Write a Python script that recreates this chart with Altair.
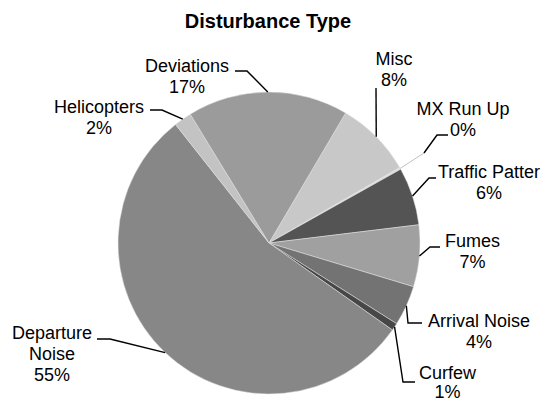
import math
import pandas as pd
import altair as alt

# ---------------- data ----------------
title = "Disturbance Type"
categories = ["Misc", "MX Run Up", "Traffic Pattern", "Fumes", "Arrival Noise",
              "Curfew", "Departure Noise", "Helicopters", "Deviations"]
label_names = [["Misc"], ["MX Run Up"], ["Traffic Patter"], ["Fumes"], ["Arrival Noise"],
               ["Curfew"], ["Departure", "Noise"], ["Helicopters"], ["Deviations"]]
values = [8.2, 0.2, 6.2, 6.6, 4.3, 0.8, 54.6, 1.9, 17.2]
colors = ["#c8c8c8", "#dcdcdc", "#545454", "#a0a0a0", "#737373",
          "#474747", "#878787", "#c3c3c3", "#9b9b9b"]

# ---------------- layout (style) ----------------
W, H = 533, 394          # chart size (page offset 8px)
OFF = 8
CX, CY, R = 269.0, 243.0, 151.0   # pie centre / radius in page pixels
START_DEG = 30.5
FONT = "Liberation Sans"

def P(px, py):
    return ((px - CX) / R, (CY - py) / R)

XMIN, XMAX = (OFF - CX) / R, (OFF + W - CX) / R
YMIN, YMAX = (CY - (OFF + H)) / R, (CY - OFF) / R

# label anchor: (centre x, first baseline y, line gap), leader path after the slice edge point
label_layout = {
    "Misc": ((394, 65, 21), [(376, 88)]),
    "MX Run Up": ((463, 115, 21), [(424, 153), (437, 135), (448, 135)]),
    "Traffic Pattern": ((489, 178, 21), [(429, 178), (436, 178)]),
    "Fumes": ((472.5, 247, 21), [(430, 247), (440, 247)]),
    "Arrival Noise": ((479, 327, 21), [(408, 323), (422, 323)]),
    "Curfew": ((447.5, 379, 19), [(403, 382), (415, 382)]),
    "Departure Noise": ((52, 339, 21), [(110, 339), (97, 339)]),
    "Helicopters": ((99, 113, 21), [(162, 110), (150, 110)]),
    "Deviations": ((187, 71.5, 21), [(247, 71), (235, 71)]),
}

# ---------------- tables ----------------
total = sum(values)
pie_df = pd.DataFrame({"category": categories, "value": values, "idx": range(len(values))})

start = math.radians(START_DEG)
leader_rows, text_rows = [], []
cum = 0.0
for i, (cat, v) in enumerate(zip(categories, values)):
    mid = start + (cum + v / 2) / total * 2 * math.pi
    cum += v
    eu, ev = math.sin(mid), math.cos(mid)
    (lx, ly, gap), path = label_layout[cat]
    pts = [(eu, ev)] + [P(*p) for p in path]
    if cat == "MX Run Up":
        segs = [(pts[0:2], "#b0b0b0", 0.8), (pts[1:], "black", 1.4)]
    else:
        segs = [(pts, "black", 1.4)]
    for s, (sp, col, lw) in enumerate(segs):
        for k, (u, w) in enumerate(sp):
            leader_rows.append({"seg": f"{cat}-{s}", "pt": k, "u": u, "v": w,
                                "lc": col, "lw": lw})
    pct = f"{round(v / total * 100)}%"
    lines = label_names[i] + [pct]
    for j, t in enumerate(lines):
        u, w = P(lx, ly + j * gap)
        text_rows.append({"u": u, "v": w, "t": t})

leader_df = pd.DataFrame(leader_rows)
text_df = pd.DataFrame(text_rows)

xs = alt.Scale(domain=[XMIN, XMAX], nice=False, zero=False)
ys = alt.Scale(domain=[YMIN, YMAX], nice=False, zero=False)

pie = alt.Chart(pie_df).mark_arc(outerRadius=R, stroke="#e4e4e4", strokeWidth=0.5).encode(
    theta=alt.Theta("value:Q", stack=True,
                    scale=alt.Scale(range=[start, start + 2 * math.pi])),
    color=alt.Color("category:N", scale=alt.Scale(domain=categories, range=colors), legend=None),
    order=alt.Order("idx:Q"),
    x=alt.X(datum=0, scale=xs, axis=None),
    y=alt.Y(datum=0, scale=ys, axis=None),
)

leaders = alt.Chart(leader_df).mark_line().encode(
    x=alt.X("u:Q", scale=xs, axis=None),
    y=alt.Y("v:Q", scale=ys, axis=None),
    detail="seg:N",
    order="pt:Q",
    color=alt.Color("lc:N", scale=None),
    size=alt.Size("lw:Q", scale=None),
)

labels = alt.Chart(text_df).mark_text(
    font=FONT, fontSize=18, align="center", baseline="alphabetic", color="black"
).encode(
    x=alt.X("u:Q", scale=xs, axis=None),
    y=alt.Y("v:Q", scale=ys, axis=None),
    text="t:N",
)

title_mark = alt.Chart(pd.DataFrame({"t": [title]})).mark_text(
    font=FONT, fontSize=20, fontWeight="bold", align="center", baseline="alphabetic",
    color="black"
).encode(
    x=alt.value(268 - OFF),
    y=alt.value(28 - OFF),
    text="t:N",
)

chart = alt.layer(pie, leaders, labels, title_mark).properties(
    width=W, height=H, padding=0,
    autosize=alt.AutoSizeParams(type="none"),
    background="white",
).configure_view(stroke=None)

chart.save("out.html", embed_options={"renderer": "svg", "actions": False})
